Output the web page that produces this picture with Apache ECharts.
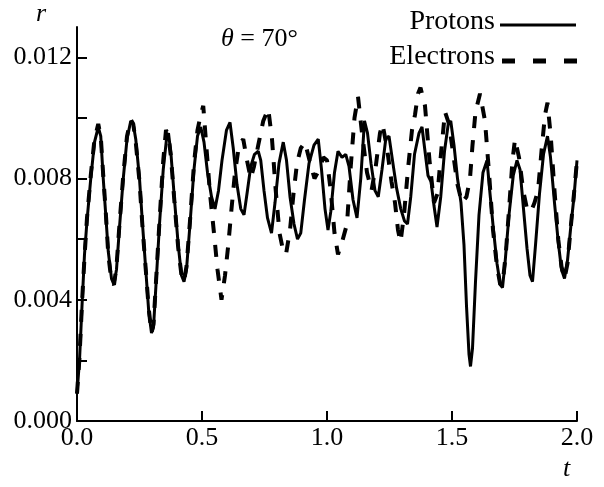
<!DOCTYPE html>
<html>
<head>
<meta charset="utf-8">
<script src="https://cdn.jsdelivr.net/npm/echarts@6/dist/echarts.min.js"></script>
<style>html,body{margin:0;padding:0;background:#fff}#c{width:604px;height:487px}</style>
</head>
<body>
<div id="c"></div>
<script>
var protonT = [0.000,0.010,0.020,0.030,0.040,0.055,0.070,0.085,0.095,0.105,0.115,0.125,0.138,0.148,0.158,0.170,0.185,0.200,0.215,0.225,0.235,0.250,0.262,0.275,0.287,0.298,0.306,0.316,0.330,0.345,0.358,0.366,0.376,0.390,0.405,0.418,0.428,0.438,0.452,0.468,0.482,0.495,0.508,0.522,0.538,0.552,0.566,0.580,0.598,0.612,0.625,0.640,0.655,0.668,0.680,0.695,0.710,0.725,0.735,0.748,0.762,0.778,0.792,0.808,0.825,0.838,0.852,0.868,0.882,0.895,0.910,0.928,0.948,0.965,0.978,0.992,1.004,1.015,1.030,1.044,1.060,1.075,1.088,1.104,1.120,1.135,1.150,1.162,1.176,1.192,1.205,1.220,1.235,1.248,1.262,1.278,1.295,1.310,1.322,1.335,1.350,1.368,1.380,1.392,1.404,1.416,1.428,1.440,1.455,1.470,1.485,1.495,1.508,1.522,1.536,1.548,1.558,1.568,1.574,1.582,1.594,1.608,1.624,1.640,1.652,1.666,1.680,1.693,1.702,1.712,1.728,1.745,1.760,1.772,1.786,1.800,1.812,1.822,1.834,1.850,1.866,1.882,1.894,1.910,1.925,1.938,1.950,1.962,1.975,1.988,2.000];
var protonR = [0.0009,0.0020,0.0038,0.0055,0.0066,0.0080,0.0092,0.0097,0.0094,0.0080,0.0068,0.0056,0.0047,0.0045,0.0050,0.0064,0.0080,0.0093,0.0099,0.0098,0.0093,0.0080,0.0065,0.0050,0.0036,0.0029,0.0031,0.0045,0.0065,0.0083,0.0093,0.0095,0.0088,0.0073,0.0058,0.0048,0.0046,0.0050,0.0065,0.0083,0.0094,0.0097,0.0092,0.0082,0.0074,0.0070,0.0076,0.0086,0.0096,0.00985,0.0090,0.0078,0.0070,0.0068,0.0075,0.0084,0.0088,0.0089,0.0086,0.0076,0.0067,0.0062,0.0072,0.0085,0.0092,0.0086,0.0074,0.0065,0.0060,0.0062,0.0073,0.0085,0.0091,0.0093,0.0083,0.0070,0.0063,0.0069,0.0082,0.0089,0.0087,0.0088,0.0084,0.0073,0.0067,0.0080,0.0099,0.0095,0.0085,0.0076,0.0074,0.0083,0.0093,0.0094,0.0086,0.0077,0.0070,0.0066,0.0065,0.0074,0.0088,0.0095,0.0097,0.0089,0.0081,0.0079,0.0071,0.0064,0.0074,0.0089,0.0098,0.0099,0.0091,0.0080,0.0072,0.0058,0.0038,0.0022,0.0018,0.0024,0.0046,0.0068,0.0082,0.0086,0.0075,0.0063,0.0052,0.0045,0.0044,0.0052,0.0068,0.0081,0.0086,0.0083,0.0070,0.0057,0.0048,0.0046,0.0058,0.0075,0.0088,0.0094,0.0087,0.0072,0.0059,0.0050,0.0047,0.0053,0.0064,0.0074,0.0086];

var electronT = [0.000,0.010,0.020,0.030,0.040,0.055,0.070,0.085,0.095,0.105,0.115,0.125,0.138,0.148,0.158,0.170,0.185,0.200,0.215,0.225,0.235,0.250,0.262,0.275,0.287,0.298,0.306,0.316,0.330,0.345,0.356,0.366,0.376,0.390,0.405,0.418,0.428,0.438,0.452,0.468,0.482,0.495,0.505,0.518,0.532,0.548,0.562,0.578,0.592,0.605,0.618,0.632,0.648,0.665,0.680,0.695,0.708,0.725,0.745,0.765,0.780,0.795,0.810,0.825,0.836,0.852,0.866,0.880,0.895,0.912,0.930,0.950,0.970,0.985,1.000,1.015,1.030,1.044,1.060,1.080,1.095,1.110,1.124,1.140,1.160,1.178,1.195,1.212,1.222,1.240,1.258,1.272,1.284,1.294,1.308,1.325,1.340,1.352,1.364,1.374,1.392,1.410,1.428,1.442,1.458,1.472,1.488,1.505,1.522,1.540,1.558,1.572,1.582,1.594,1.612,1.632,1.648,1.664,1.680,1.693,1.702,1.715,1.730,1.742,1.752,1.768,1.785,1.800,1.815,1.830,1.844,1.858,1.872,1.882,1.895,1.910,1.925,1.938,1.950,1.962,1.975,1.988,2.000];
var electronR = [0.0009,0.0021,0.0039,0.0054,0.0067,0.0081,0.0093,0.0098,0.0094,0.0081,0.0069,0.0055,0.0046,0.0045,0.0051,0.0065,0.0081,0.0094,0.00995,0.0098,0.0092,0.0079,0.0064,0.0050,0.0037,0.0029,0.0032,0.0046,0.0066,0.0086,0.0096,0.0094,0.0087,0.0072,0.0057,0.0048,0.0046,0.0051,0.0066,0.0085,0.0096,0.0101,0.0104,0.0090,0.0075,0.0062,0.0050,0.0040,0.0048,0.0058,0.0070,0.0082,0.0091,0.0093,0.0086,0.0080,0.0084,0.0091,0.0099,0.0103,0.0093,0.0076,0.0062,0.0056,0.0055,0.0063,0.0075,0.0085,0.0090,0.0092,0.0086,0.0080,0.0083,0.0087,0.0086,0.0076,0.0062,0.0055,0.0059,0.0065,0.0084,0.0100,0.0107,0.0095,0.0082,0.0076,0.0084,0.0095,0.0098,0.0090,0.0079,0.0072,0.0063,0.0059,0.0068,0.0084,0.0096,0.0101,0.0108,0.0110,0.0104,0.0086,0.0072,0.0075,0.0090,0.0102,0.0098,0.0088,0.0078,0.0072,0.0074,0.0080,0.0091,0.0102,0.0108,0.0099,0.0082,0.0063,0.0051,0.0045,0.0045,0.0055,0.0072,0.0086,0.0093,0.0087,0.0076,0.0070,0.0069,0.0072,0.0076,0.0089,0.0101,0.0105,0.0094,0.0076,0.0060,0.0051,0.0047,0.0052,0.0064,0.0075,0.0086];

var xTicks = [0.0, 0.5, 1.0, 1.5, 2.0];
var yTickValues = [0, 0.002, 0.004, 0.006, 0.008, 0.010, 0.012];
var yLabelValues = [0, 0.004, 0.008, 0.012];

function pairs(t, r) { var out = []; for (var i = 0; i < t.length; i++) out.push([t[i], r[i]]); return out; }

var FONT = '"Liberation Serif", "DejaVu Serif", serif';
var chart = echarts.init(document.getElementById('c'), null, {renderer: 'canvas'});
chart.setOption({
  animation: false,
  backgroundColor: '#fff',
  grid: {left: 77, right: 27, top: 27, bottom: 66, containLabel: false},
  xAxis: {
    type: 'value', min: 0, max: 2, interval: 0.5,
    axisLine: {show: true, onZero: false, lineStyle: {color: '#000', width: 2}},
    axisTick: {show: true, inside: true, length: 10, lineStyle: {color: '#000', width: 2}},
    axisLabel: {color: '#000', fontFamily: FONT, fontSize: 26, margin: 4,
      customValues: xTicks,
      formatter: function (v) { return v.toFixed(1); }},
    splitLine: {show: false}
  },
  yAxis: {
    type: 'value', min: 0, max: 0.013,
    axisLine: {show: true, onZero: false, lineStyle: {color: '#000', width: 2}},
    axisTick: {show: true, inside: true, length: 10, customValues: yTickValues, lineStyle: {color: '#000', width: 2}},
    axisLabel: {color: '#000', fontFamily: FONT, fontSize: 26, margin: 5,
      customValues: yLabelValues,
      formatter: function (v) { return v.toFixed(3); }},
    splitLine: {show: false}
  },
  series: [
    {name: 'Electrons', type: 'line', data: pairs(electronT, electronR), showSymbol: false, symbol: 'none',
      lineStyle: {color: '#000', width: 4, type: [12, 12]}, z: 2},
    {name: 'Protons', type: 'line', data: pairs(protonT, protonR), showSymbol: false, symbol: 'none',
      lineStyle: {color: '#000', width: 3, type: 'solid'}, z: 3}
  ],
  graphic: [
    {type: 'text', left: 36, top: 1, style: {text: 'r', font: 'italic 26px ' + FONT, fill: '#000'}},
    {type: 'text', left: 563, top: 456, style: {text: 't', font: 'italic 26px ' + FONT, fill: '#000'}},
    {type: 'text', left: 221, top: 26, style: {
      text: '{i|θ} = 70°', fill: '#000',
      rich: {i: {font: 'italic 26px ' + FONT, fill: '#000'}},
      font: '26px ' + FONT}},
    {type: 'text', right: 109, top: 8, style: {text: 'Protons', font: '28px ' + FONT, fill: '#000', textAlign: 'right'}},
    {type: 'line', shape: {x1: 500, y1: 25, x2: 576, y2: 25}, style: {stroke: '#000', lineWidth: 3}},
    {type: 'text', right: 109, top: 43, style: {text: 'Electrons', font: '28px ' + FONT, fill: '#000', textAlign: 'right'}},
    {type: 'line', shape: {x1: 502, y1: 61, x2: 580, y2: 61}, style: {stroke: '#000', lineWidth: 5, lineDash: [13, 18]}}
  ]
});
</script>
</body>
</html>
